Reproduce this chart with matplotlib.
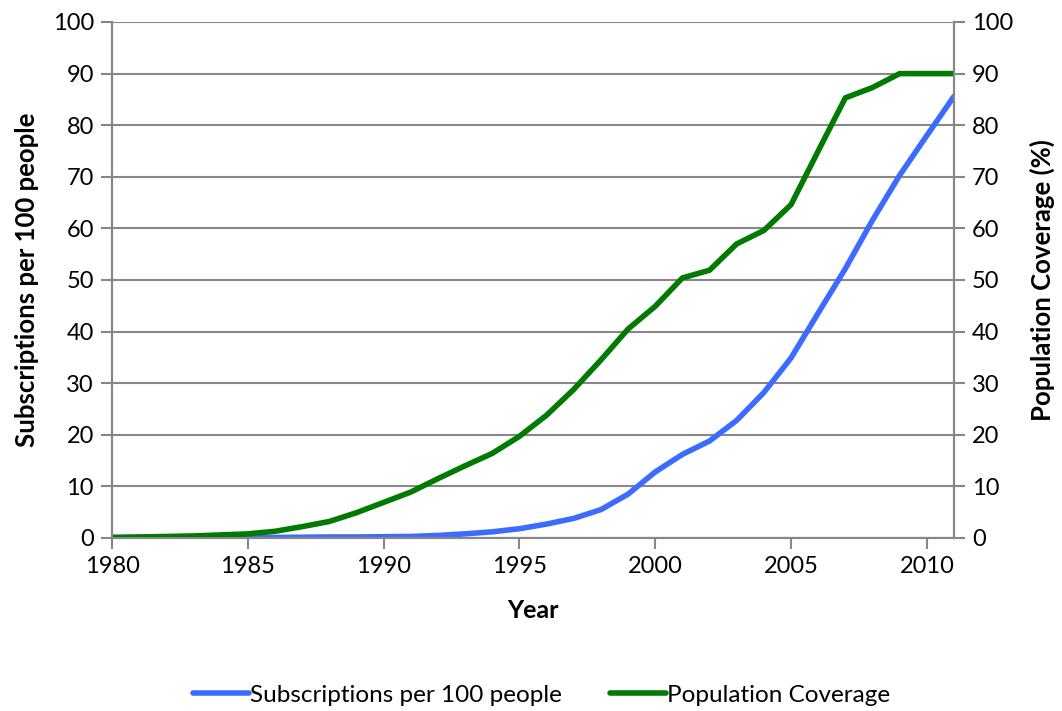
import matplotlib
matplotlib.use("Agg")
import matplotlib.pyplot as plt
from matplotlib.ticker import MultipleLocator

years = list(range(1980, 2012))
subscriptions = [0.1, 0.1, 0.1, 0.1, 0.1, 0.1, 0.1, 0.15, 0.2, 0.2,
                 0.25, 0.3, 0.5, 0.8, 1.2, 1.8, 2.7, 3.8, 5.5, 8.5,
                 12.8, 16.2, 18.8, 22.8, 28.2, 34.9, 43.6, 52.2, 61.6, 70.3,
                 78.0, 85.6]
coverage = [0.1, 0.2, 0.3, 0.4, 0.6, 0.8, 1.3, 2.2, 3.2, 4.9,
            6.9, 8.9, 11.5, 14.0, 16.4, 19.7, 23.8, 28.8, 34.5, 40.5,
            44.9, 50.4, 51.9, 57.0, 59.6, 64.6, 75.0, 85.3, 87.3, 90.0,
            90.0, 90.0]

series_labels = ["Subscriptions per 100 people", "Population Coverage"]
xlabel = "Year"
ylabel_left = "Subscriptions per 100 people"
ylabel_right = "Population Coverage (%)"

plt.rcParams['font.family'] = ['Lato', 'DejaVu Sans']

fig = plt.figure(figsize=(10.62, 7.11), dpi=100)
ax = fig.add_axes([112/1062, 1-538/711, (954-112)/1062, (538-22)/711])
ax2 = ax.twinx()

grid_c = "#878787"
blue = "#3c6cff"
green = "#007a00"

ax.plot(years, subscriptions, color=blue, lw=4.0, solid_joinstyle='round',
        solid_capstyle='round', label=series_labels[0], zorder=3)
ax.plot(years, coverage, color=green, lw=4.0, solid_joinstyle='round',
        solid_capstyle='round', label=series_labels[1], zorder=3)

for a in (ax, ax2):
    a.set_ylim(0, 100)
    a.yaxis.set_major_locator(MultipleLocator(10))
    for s in a.spines.values():
        s.set_color(grid_c)
        s.set_linewidth(1.5)
    a.tick_params(axis='both', colors=grid_c, width=1.5, length=8,
                  labelcolor='black', labelsize=17, pad=5)

ax.set_xlim(1980, 2011)
ax.set_xticks(list(range(1980, 2011, 5)))
ax.spines['top'].set_visible(False)
ax2.spines['top'].set_visible(False)
ax.grid(axis='y', color=grid_c, lw=1.5)
ax.set_axisbelow(True)

ax.set_xlabel(xlabel, fontsize=18, fontweight='bold', labelpad=16)
ax.set_ylabel(ylabel_left, fontsize=18.5, fontweight='bold', labelpad=10)
ax2.set_ylabel(ylabel_right, fontsize=18.5, fontweight='bold', labelpad=12)

h, l = ax.get_legend_handles_labels()
fig.legend(h, l, loc='center', bbox_to_anchor=(0.51, 1-695/711), ncol=2,
           frameon=False, fontsize=17.5, handlelength=2.3, handletextpad=0.05,
           columnspacing=2.0)

fig.savefig("out.png", dpi=100)
